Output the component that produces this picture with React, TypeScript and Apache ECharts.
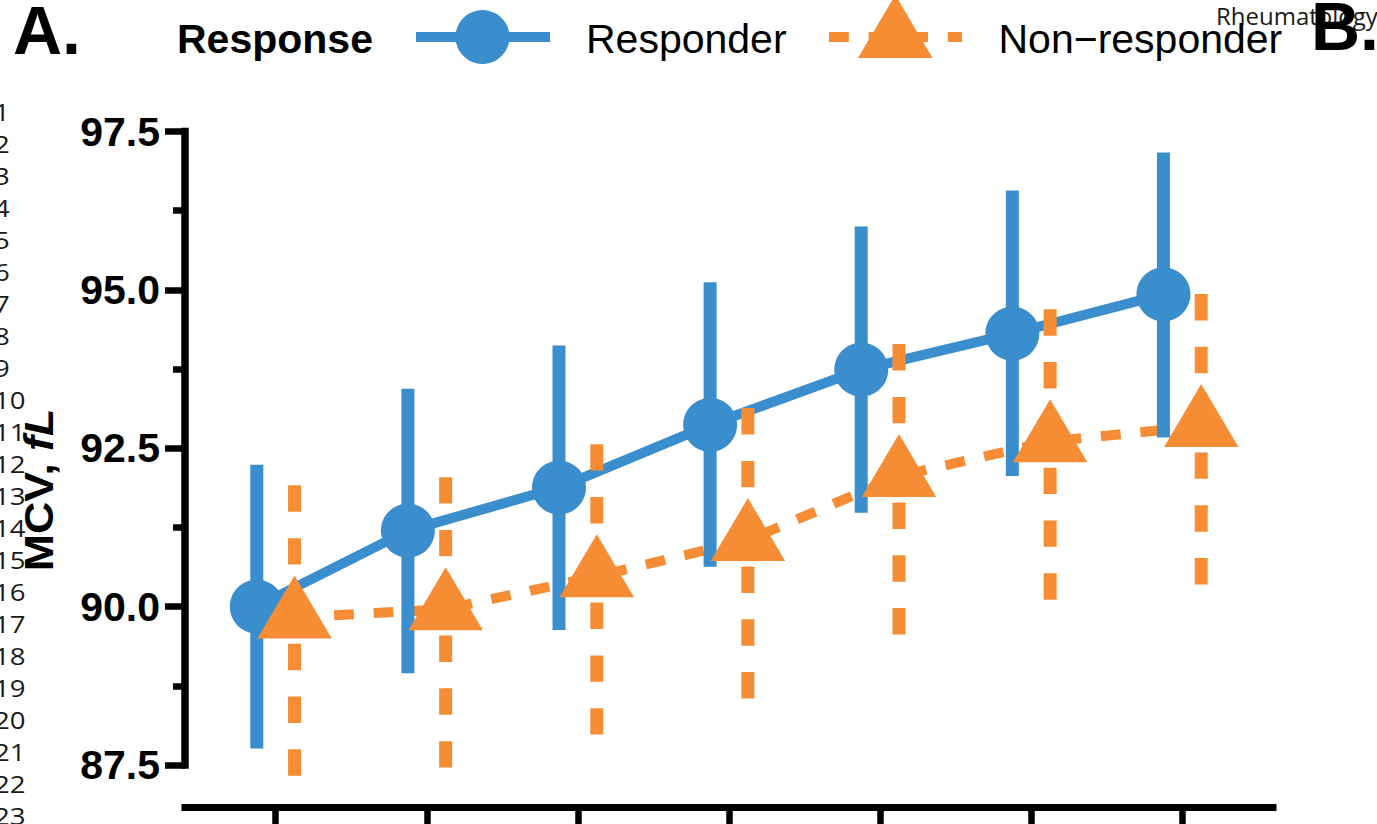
import { useEffect, useRef } from "react";
import * as echarts from "echarts";

// Visit index on the x axis (tick labels sit below the visible area)
const visits = [1, 2, 3, 4, 5, 6, 7];

// Mean MCV (fL) with lower / upper interval bounds per group
const responderMean = [90.0, 91.2, 91.88, 92.87, 93.74, 94.31, 94.93];
const responderLow = [87.76, 88.95, 89.63, 90.63, 91.48, 92.06, 92.67];
const responderHigh = [92.24, 93.44, 94.12, 95.12, 96.0, 96.57, 97.17];

const nonResponderMean = [89.83, 89.96, 90.48, 91.05, 92.06, 92.61, 92.85];
const nonResponderLow = [87.33, 87.46, 87.98, 88.55, 89.56, 90.11, 90.35];
const nonResponderHigh = [92.33, 92.46, 92.98, 93.55, 94.56, 95.11, 95.35];

// Y axis scale
const yMin = 87.5;
const yMax = 97.5;
const yStep = 2.5;

const legendTitle = "Response";
const groupNames = ["Responder", "Non\u2212responder"];
const yTitle = "MCV, ";
const yUnit = "fL";
const panelLetters = ["A.", "B."];
const runningHead = "Rheumatology";
const lineNumbers = Array.from({ length: 23 }, (_, i) => String(i + 1));

const BLUE = "#3A8ECE";
const ORANGE = "#F68D35";
const SANS = "'Liberation Sans', Arial, Helvetica, sans-serif";
const SERIF_NUM = "'Open Sans', 'Noto Sans', sans-serif";
const DODGE = 0.125;

function errorBars(
  name: string,
  offset: number,
  lows: number[],
  highs: number[],
  color: string,
  dashed: boolean,
  z: number
) {
  return {
    type: "custom",
    name,
    z,
    clip: false,
    silent: true,
    data: visits.map((v, i) => [v + offset, lows[i], highs[i]]),
    encode: { x: 0, y: [1, 2] },
    renderItem: (_params: any, api: any) => {
      const lo = api.coord([api.value(0), api.value(1)]);
      const hi = api.coord([api.value(0), api.value(2)]);
      return {
        type: "line",
        shape: { x1: lo[0], y1: lo[1], x2: hi[0], y2: hi[1] },
        style: {
          stroke: color,
          lineWidth: 13,
          lineDash: dashed ? [26.4, 26.4] : null,
          lineCap: "butt",
          fill: null,
        },
      };
    },
  };
}

export default function App() {
  const ref = useRef<HTMLDivElement>(null);

  useEffect(() => {
    if (!ref.current) return;
    const chart = echarts.init(ref.current, undefined, { renderer: "svg" });

    const numberTexts = lineNumbers.map((t, i) => ({
      type: "text",
      x: -6,
      y: 112 + i * 32,
      scaleX: 1.15,
      z: 1,
      style: {
        text: t,
        fontFamily: SERIF_NUM,
        fontSize: 24,
        fill: "#1a1a1a",
        align: "left",
        verticalAlign: "middle",
      },
    }));

    const option: any = {
      animation: false,
      backgroundColor: "#ffffff",
      grid: { left: 185, right: 104, top: 131.5, bottom: 59, containLabel: false },
      xAxis: {
        type: "value",
        min: 0.4,
        max: 7.6,
        offset: 42,
        axisLine: {
          show: true,
          lineStyle: { color: "#000", width: 7, cap: "square" },
        },
        axisTick: {
          show: true,
          customValues: visits,
          length: 30,
          lineStyle: { color: "#000", width: 6.5 },
        },
        axisLabel: { show: false },
        splitLine: { show: false },
      },
      yAxis: {
        type: "value",
        min: yMin,
        max: yMax,
        interval: yStep,
        axisLine: {
          show: true,
          lineStyle: { color: "#000", width: 7.5, cap: "square" },
        },
        axisTick: {
          show: true,
          length: 20,
          lineStyle: { color: "#000", width: 6.5 },
        },
        minorTick: {
          show: true,
          splitNumber: 2,
          length: 12,
          lineStyle: { color: "#000", width: 6.5 },
        },
        axisLabel: {
          margin: 25,
          fontSize: 41,
          fontWeight: "bold",
          fontFamily: SANS,
          color: "#000",
          formatter: (v: number) => v.toFixed(1),
        },
        splitLine: { show: false },
        minorSplitLine: { show: false },
      },
      series: [
        {
          type: "line",
          name: groupNames[0],
          z: 2,
          clip: false,
          silent: true,
          symbol: "none",
          showSymbol: false,
          data: visits.map((v, i) => [v - DODGE, responderMean[i]]),
          lineStyle: { color: BLUE, width: 10, type: "solid", cap: "butt" },
        },
        {
          type: "line",
          name: groupNames[1],
          z: 2,
          clip: false,
          silent: true,
          symbol: "none",
          showSymbol: false,
          data: visits.map((v, i) => [v + DODGE, nonResponderMean[i]]),
          lineStyle: { color: ORANGE, width: 10, type: [19.8, 19.8], cap: "butt" },
        },
        errorBars(groupNames[0], -DODGE, responderLow, responderHigh, BLUE, false, 3),
        errorBars(groupNames[1], DODGE, nonResponderLow, nonResponderHigh, ORANGE, true, 3),
        {
          type: "scatter",
          name: groupNames[0],
          z: 4,
          clip: false,
          silent: true,
          symbol: "circle",
          symbolSize: 54,
          itemStyle: { color: BLUE, opacity: 1 },
          data: visits.map((v, i) => [v - DODGE, responderMean[i]]),
        },
        {
          type: "scatter",
          name: groupNames[1],
          z: 4,
          clip: false,
          silent: true,
          symbol: "triangle",
          symbolSize: [74.5, 63],
          symbolOffset: [0, -10.5],
          itemStyle: { color: ORANGE, opacity: 1 },
          data: visits.map((v, i) => [v + DODGE, nonResponderMean[i]]),
        },
      ],
      graphic: [
        ...numberTexts,
        // y axis title
        {
          type: "text",
          x: 39,
          y: 490,
          rotation: Math.PI / 2,
          scaleX: 1.12,
          z: 5,
          style: {
            text: `{a|${yTitle}}{b|${yUnit}}`,
            align: "center",
            verticalAlign: "middle",
            rich: {
              a: { fontFamily: SANS, fontSize: 40, fontWeight: "bold", fill: "#000" },
              b: {
                fontFamily: SANS,
                fontSize: 40,
                fontWeight: "bold",
                fontStyle: "italic",
                fill: "#000",
              },
            },
          },
        },
        // panel letter A
        {
          type: "text",
          x: 13,
          y: 30,
          z: 5,
          style: {
            text: panelLetters[0],
            fontFamily: SANS,
            fontSize: 68,
            fontWeight: "bold",
            fill: "#000",
            align: "left",
            verticalAlign: "middle",
          },
        },
        // running head
        {
          type: "text",
          x: 1216,
          y: 15.5,
          z: 5,
          style: {
            text: runningHead,
            fontFamily: SERIF_NUM,
            fontSize: 24,
            fill: "#1a1a1a",
            align: "left",
            verticalAlign: "middle",
          },
        },
        // panel letter B
        {
          type: "text",
          x: 1311,
          y: 26,
          z: 6,
          style: {
            text: panelLetters[1],
            fontFamily: SANS,
            fontSize: 68,
            fontWeight: "bold",
            fill: "#000",
            align: "left",
            verticalAlign: "middle",
          },
        },
        // legend
        {
          type: "text",
          x: 177,
          y: 38.6,
          z: 5,
          style: {
            text: legendTitle,
            fontFamily: SANS,
            fontSize: 41,
            fontWeight: "bold",
            fill: "#000",
            align: "left",
            verticalAlign: "middle",
          },
        },
        {
          type: "line",
          z: 5,
          shape: { x1: 416, y1: 37, x2: 550, y2: 37 },
          style: { stroke: BLUE, lineWidth: 10, lineCap: "butt" },
        },
        {
          type: "circle",
          z: 6,
          shape: { cx: 482.5, cy: 37, r: 27 },
          style: { fill: BLUE },
        },
        {
          type: "text",
          x: 586,
          y: 38.6,
          z: 5,
          style: {
            text: groupNames[0],
            fontFamily: SANS,
            fontSize: 41,
            fill: "#000",
            align: "left",
            verticalAlign: "middle",
          },
        },
        {
          type: "line",
          z: 5,
          shape: { x1: 829, y1: 37, x2: 962, y2: 37 },
          style: { stroke: ORANGE, lineWidth: 10, lineCap: "butt", lineDash: [19.8, 19.8] },
        },
        {
          type: "polygon",
          z: 6,
          shape: {
            points: [
              [895.3, -5],
              [932.6, 58],
              [858, 58],
            ],
          },
          style: { fill: ORANGE },
        },
        {
          type: "text",
          x: 998.5,
          y: 38.6,
          z: 5,
          style: {
            text: groupNames[1],
            fontFamily: SANS,
            fontSize: 41,
            fill: "#000",
            align: "left",
            verticalAlign: "middle",
          },
        },
      ],
    };

    chart.setOption(option);
    return () => chart.dispose();
  }, []);

  return (
    <div
      ref={ref}
      style={{ position: "fixed", left: 0, top: 0, width: 1377, height: 824, background: "#fff" }}
    />
  );
}
